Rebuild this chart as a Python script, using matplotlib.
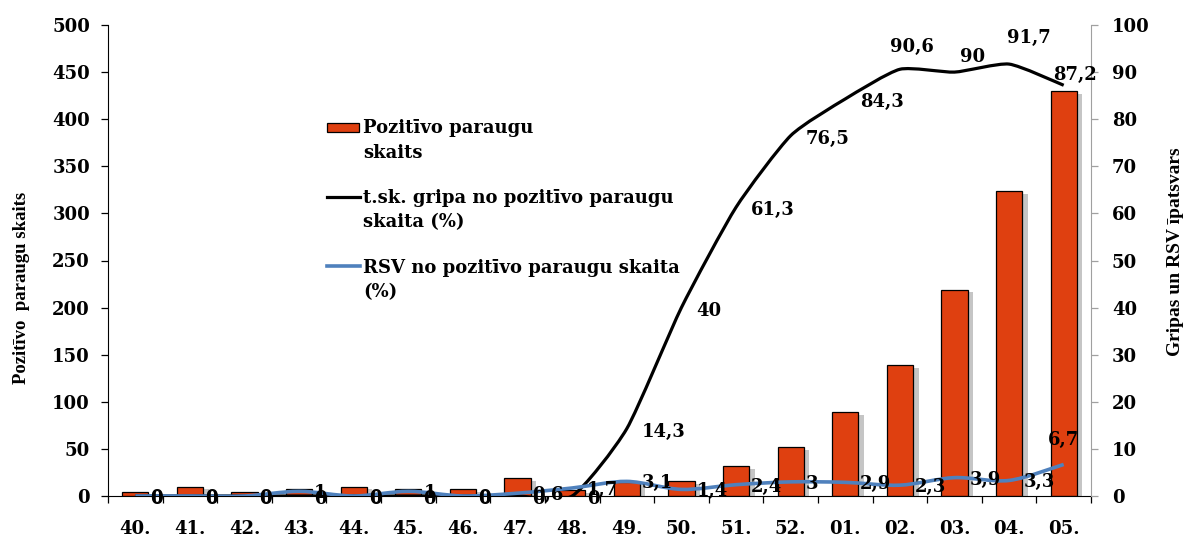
import matplotlib
matplotlib.use("Agg")
import matplotlib.pyplot as plt
from matplotlib.path import Path
from matplotlib.patches import PathPatch, Rectangle
from matplotlib.lines import Line2D
import matplotlib.patheffects as pe
import numpy as np

# ---- data ----
weeks = ["40.", "41.", "42.", "43.", "44.", "45.", "46.", "47.", "48.", "49.",
         "50.", "51.", "52.", "01.", "02.", "03.", "04.", "05."]
positive_count = [4, 10, 4, 7, 10, 7, 7, 19, 6, 15, 16, 32, 52, 89, 139, 219, 324, 430]
flu_pct = [0, 0, 0, 0, 0, 0, 0, 0, 0, 14.3, 40, 61.3, 76.5, 84.3, 90.6, 90, 91.7, 87.2]
rsv_pct = [0, 0, 0, 1, 0, 1, 0, 0.6, 1.7, 3.1, 1.4, 2.4, 3, 2.9, 2.3, 3.9, 3.3, 6.7]
left_ticks = [0, 50, 100, 150, 200, 250, 300, 350, 400, 450, 500]
right_ticks = [0, 10, 20, 30, 40, 50, 60, 70, 80, 90, 100]

leg_bar = ["Pozitīvo paraugu", "skaits"]
leg_flu = ["t.sk. gripa no pozitīvo paraugu", "skaita (%)"]
leg_rsv = ["RSV no pozitīvo paraugu skaita", "(%)"]
ylabel_left = "Pozitīvo  paraugu skaits"
ylabel_right = "Gripas un RSV īpatsvars"

# ---- style ----
FONT = "DejaVu Serif"
plt.rcParams["font.family"] = FONT
plt.rcParams["font.weight"] = "bold"
FS = 13
BAR_COLOR = "#DF4010"
BLUE = "#4F81BD"

W, H = 1186, 538
fig = plt.figure(figsize=(W / 100, H / 100), dpi=100)
L, R, T, B = 108, 1091, 25, 496
ax = fig.add_axes([L / W, 1 - B / H, (R - L) / W, (B - T) / H])
ax2 = ax.twinx()

x = np.arange(len(weeks))
ax.bar(x, positive_count, width=0.48, color=BAR_COLOR, edgecolor="black", linewidth=0.9,
       path_effects=[pe.SimplePatchShadow(offset=(4, -2), shadow_rgbFace="#808080", alpha=0.45),
                     pe.Normal()], zorder=2)
ax.set_xlim(-0.5, len(weeks) - 0.5)
ax.set_ylim(0, 500)
ax2.set_ylim(0, 100)


def smooth_path(xs, ys, k=0.11):
    pts = np.column_stack([xs, ys]).astype(float)
    n = len(pts)
    verts = [tuple(pts[0])]
    codes = [Path.MOVETO]
    for i in range(n - 1):
        p0 = pts[i - 1] if i > 0 else pts[i]
        p1 = pts[i]
        p2 = pts[i + 1]
        p3 = pts[i + 2] if i + 2 < n else pts[i + 1]
        c1 = p1 + (p2 - p0) * k
        c2 = p2 - (p3 - p1) * k
        verts += [tuple(c1), tuple(c2), tuple(p2)]
        codes += [Path.CURVE4] * 3
    return Path(verts, codes)


ax2.add_patch(PathPatch(smooth_path(x, flu_pct, 0.1), fill=False, edgecolor="black",
                        linewidth=2.3, capstyle="butt", joinstyle="round", zorder=3))
ax2.add_patch(PathPatch(smooth_path(x, rsv_pct, 0.15), fill=False, edgecolor=BLUE,
                        linewidth=2.6, capstyle="butt", joinstyle="round", zorder=4))

# ---- data labels ----
def fmt(v):
    return ("%g" % v).replace(".", ",")

flu_above = {14: (12, 22), 15: (18, 15), 16: (20, 26), 17: (11, 10)}
for i, v in enumerate(flu_pct):
    if i in flu_above:
        dx, dy = flu_above[i]
        ax2.annotate(fmt(v), (x[i], v), xytext=(dx, dy), textcoords="offset pixels",
                     ha="center", va="center", fontsize=FS, fontweight="bold", zorder=6)
    else:
        ax2.annotate(fmt(v), (x[i], v), xytext=(15, -3), textcoords="offset pixels",
                     ha="left", va="center", fontsize=FS, fontweight="bold", zorder=6)
rsv_above = {17: (0, 24)}
for i, v in enumerate(rsv_pct):
    if i in rsv_above:
        dx, dy = rsv_above[i]
        ax2.annotate(fmt(v), (x[i], v), xytext=(dx, dy), textcoords="offset pixels",
                     ha="center", va="center", fontsize=FS, fontweight="bold", zorder=6)
    else:
        ax2.annotate(fmt(v), (x[i], v), xytext=(15, -2), textcoords="offset pixels",
                     ha="left", va="center", fontsize=FS, fontweight="bold", zorder=6)

# ---- axes styling ----
for a in (ax, ax2):
    a.spines["top"].set_visible(False)
ax.spines["right"].set_visible(False)
ax2.spines["left"].set_visible(False)
ax2.spines["bottom"].set_visible(False)
ax2.spines["right"].set_color("#A0A0A0")
ax.spines["left"].set_color("black")
ax.spines["bottom"].set_color("black")

ax.set_yticks(left_ticks)
ax.set_yticklabels([str(t) for t in left_ticks], fontsize=FS, fontweight="bold")
ax.tick_params(axis="y", direction="out", length=5, width=0.9, pad=8)
ax2.set_yticks(right_ticks)
ax2.set_yticklabels([str(t) for t in right_ticks], fontsize=FS, fontweight="bold")
ax2.tick_params(axis="y", direction="out", length=5, width=0.9, color="#A0A0A0", pad=10)
for lab in ax2.get_yticklabels():
    lab.set_horizontalalignment("left")

ax.set_xticks(np.arange(len(weeks) + 1) - 0.5)
ax.set_xticklabels([])
ax.tick_params(axis="x", which="major", direction="out", length=5, width=0.9)
ax.set_xticks(x, minor=True)
ax.set_xticklabels(weeks, minor=True, fontsize=FS, fontweight="bold")
ax.tick_params(axis="x", which="minor", length=0, pad=17)

fig.text(22 / W, 1 - 288 / H, ylabel_left, rotation=90, ha="center", va="center",
         fontsize=13.5, fontweight="bold", family="Liberation Serif")
fig.text(1175 / W, 1 - 252 / H, ylabel_right, rotation=90, ha="center", va="center",
         fontsize=14, fontweight="bold", family="Liberation Serif")

# ---- legend (manual, handle aligned with first line) ----
def fx(px):
    return px / W

def fy(py):
    return 1 - py / H

fig.patches.append(Rectangle((fx(327), fy(132)), fx(359) - fx(327), fy(123) - fy(132),
                             transform=fig.transFigure, facecolor=BAR_COLOR,
                             edgecolor="black", linewidth=0.9, figure=fig))
fig.lines.append(Line2D([fx(327), fx(360)], [fy(197), fy(197)], transform=fig.transFigure,
                        color="black", linewidth=2.3, figure=fig))
fig.lines.append(Line2D([fx(327), fx(360)], [fy(266), fy(266)], transform=fig.transFigure,
                        color=BLUE, linewidth=2.6, figure=fig))
entries = [(leg_bar, 128), (leg_flu, 198), (leg_rsv, 268)]
for lines_, y0 in entries:
    for k, t in enumerate(lines_):
        fig.text(fx(363), fy(y0 + 24.5 * k), t, ha="left", va="center",
                 fontsize=FS, fontweight="bold")

fig.savefig("out.png", dpi=100)
